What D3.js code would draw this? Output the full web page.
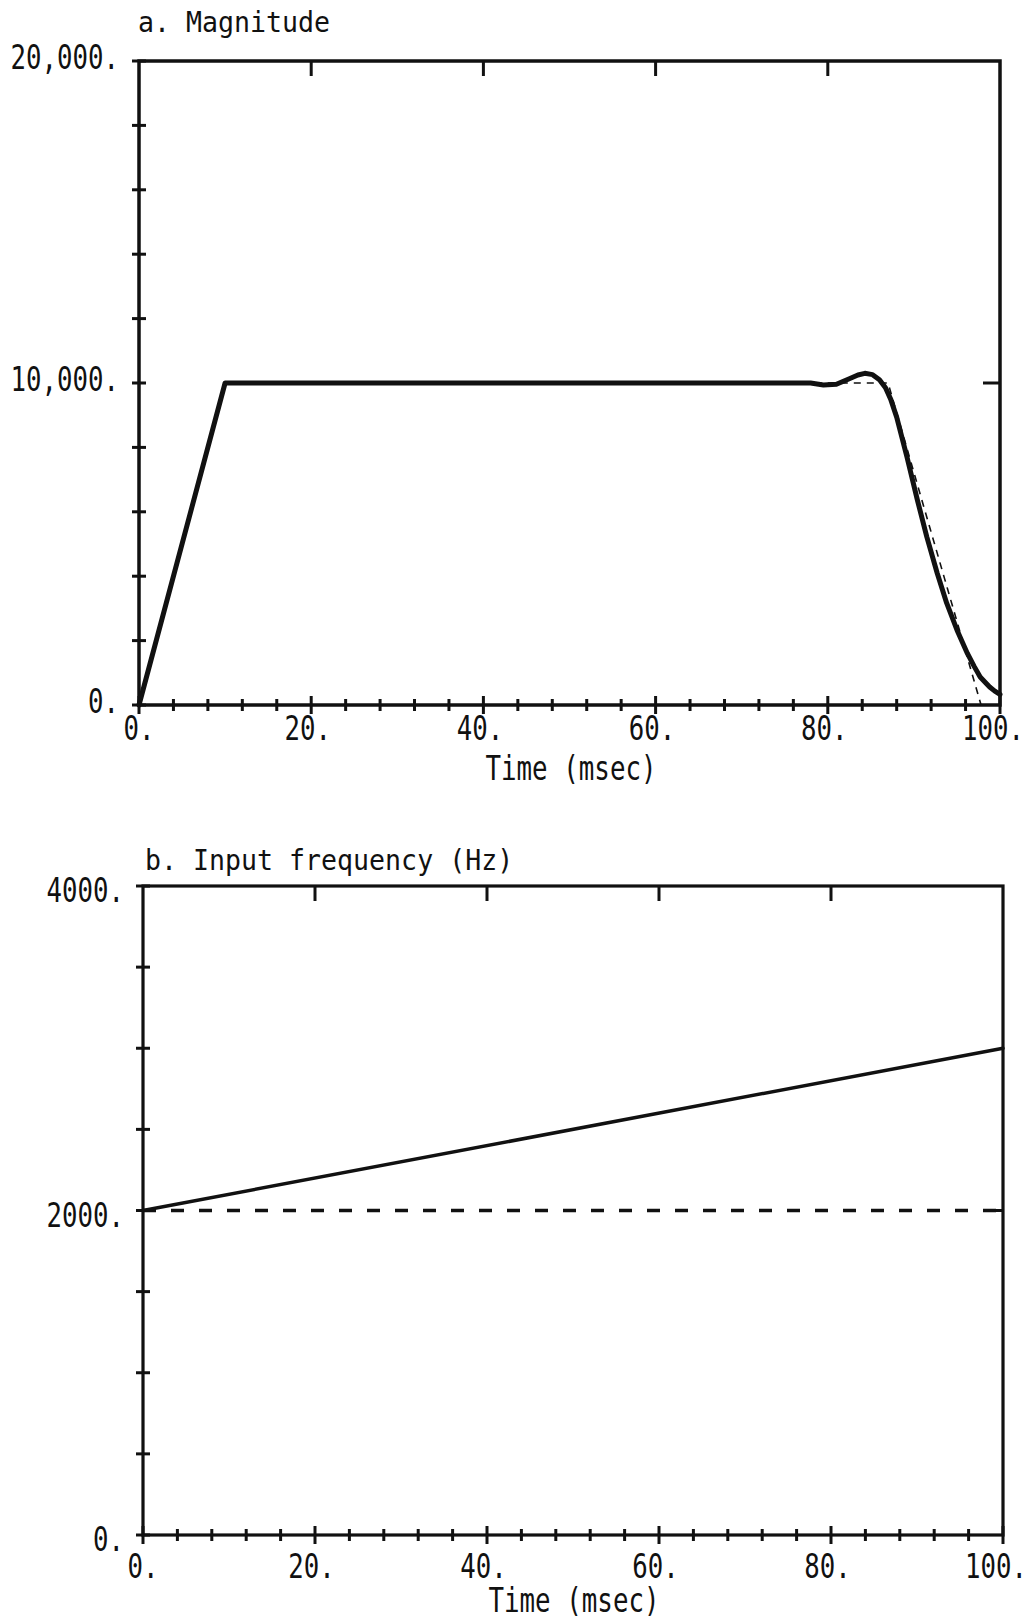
<!DOCTYPE html>
<html>
<head>
<meta charset="utf-8">
<script src="https://cdn.jsdelivr.net/npm/d3@7"></script>
<style>
  html, body { margin: 0; padding: 0; background: #fff; }
  svg { display: block; }
  text { font-family: "DejaVu Sans Mono", "Liberation Mono", monospace; fill: #111; }
</style>
</head>
<body>
<svg id="chart" width="1031" height="1620"></svg>
<script>
// ---------- Data ----------
// Panel a: magnitude vs time
const magTime  = [0, 10, 78, 79.5, 81, 82.5, 83.5, 84.3, 85.2, 86, 86.7, 87.3, 88, 89.2, 90.4, 91.5, 92.7, 93.8, 95, 96.2, 97, 97.7, 98.3, 98.8, 99.4, 100];
const magValue = [0, 10000, 10000, 9940, 9960, 10130, 10250, 10300, 10260, 10100, 9850, 9500, 8940, 7700, 6370, 5220, 4100, 3170, 2330, 1610, 1200, 870, 700, 560, 430, 330];
const magRefTime  = [0, 10, 87, 97.8];
const magRefValue = [0, 10000, 10000, 0];

// Panel b: input frequency vs time
const freqTime  = [0, 100];
const freqValue = [2000, 3000];
const freqRefTime  = [0, 100];
const freqRefValue = [2000, 2000];

// Tick values / labels
const xMajorTicks = [0, 20, 40, 60, 80, 100];
const xMajorLabels = ["0.", "20.", "40.", "60.", "80.", "100."];
const magYTicks = [0, 10000, 20000];
const magYLabels = ["0.", "10,000.", "20,000."];
const freqYTicks = [0, 2000, 4000];
const freqYLabels = ["0.", "2000.", "4000."];
const titleA = "a. Magnitude";
const titleB = "b. Input frequency (Hz)";
const xTitle = "Time (msec)";

// ---------- Drawing ----------
const svg = d3.select("#chart");
const INK = "#111";

function label(g, str, x, y, anchor, size, sx) {
  g.append("text")
    .attr("transform", `translate(${x},${y}) scale(${sx},1)`)
    .attr("text-anchor", anchor)
    .style("font-size", size + "px")
    .text(str);
}

function panel(cfg) {
  const g = svg.append("g");
  const x = d3.scaleLinear().domain([0, 100]).range([cfg.x0, cfg.x1]);
  const y = d3.scaleLinear().domain([0, cfg.yMax]).range([cfg.y0, cfg.y1]);

  // frame
  g.append("rect")
    .attr("x", x(0)).attr("y", y(cfg.yMax))
    .attr("width", x(100) - x(0)).attr("height", y(0) - y(cfg.yMax))
    .attr("fill", "none").attr("stroke", INK).attr("stroke-width", cfg.axisW);

  // bottom axis: minor ticks every 4 ms crossing, majors longer
  const minor = d3.range(0, 101, 4).filter(v => v % 20 !== 0);
  g.selectAll(".xminor").data(minor).join("line")
    .attr("x1", d => x(d)).attr("x2", d => x(d))
    .attr("y1", y(0) - 6).attr("y2", y(0) + 6)
    .attr("stroke", INK).attr("stroke-width", 3);
  g.selectAll(".xmajor").data(xMajorTicks).join("line")
    .attr("x1", d => x(d)).attr("x2", d => x(d))
    .attr("y1", y(0) - 9).attr("y2", y(0) + 9)
    .attr("stroke", INK).attr("stroke-width", 3);

  // top axis: inward majors
  g.selectAll(".xtop").data(xMajorTicks.slice(1, -1)).join("line")
    .attr("x1", d => x(d)).attr("x2", d => x(d))
    .attr("y1", y(cfg.yMax)).attr("y2", y(cfg.yMax) + 15)
    .attr("stroke", INK).attr("stroke-width", 3);

  // left axis: minor crossing ticks
  g.selectAll(".yminor").data(d3.range(0, cfg.yMax + 1, cfg.yMinor)).join("line")
    .attr("x1", x(0) - 7).attr("x2", x(0) + 7)
    .attr("y1", d => y(d)).attr("y2", d => y(d))
    .attr("stroke", INK).attr("stroke-width", 3);

  // right axis: inward tick at mid value
  g.append("line")
    .attr("x1", x(100) - 17).attr("x2", x(100))
    .attr("y1", y(cfg.yMax / 2)).attr("y2", y(cfg.yMax / 2))
    .attr("stroke", INK).attr("stroke-width", 3);

  // labels
  cfg.yTicks.forEach((v, i) => label(g, cfg.yLabels[i], cfg.yLabelX, y(v) + cfg.yLabelDy, "end", 33, 0.78));
  xMajorTicks.forEach((v, i) => {
    const s = xMajorLabels[i];
    label(g, s, x(v) - (s.length - 2) * 3.5, cfg.xLabelY, "middle", 33, 0.78);
  });
  label(g, xTitle, cfg.xTitleX, cfg.xTitleY, "middle", 34, 0.76);
  label(g, cfg.title, cfg.titleX, cfg.titleY, "start", 28, 0.95);

  // series
  const line = d3.line().x(d => x(d[0])).y(d => y(d[1])).curve(d3.curveLinear);
  g.append("path")
    .datum(d3.zip(cfg.refT, cfg.refV))
    .attr("d", line)
    .attr("fill", "none").attr("stroke", INK)
    .attr("stroke-width", cfg.refW).attr("stroke-dasharray", cfg.dash);
  g.append("path")
    .datum(d3.zip(cfg.t, cfg.v))
    .attr("d", line)
    .attr("fill", "none").attr("stroke", INK)
    .attr("stroke-width", cfg.lineW)
    .attr("stroke-linejoin", "round").attr("stroke-linecap", "round");
}

panel({
  x0: 139, x1: 1000, y0: 705, y1: 61, yMax: 20000, yMinor: 2000,
  axisW: 3.5, lineW: 5, refW: 1.6, dash: "7,6",
  yTicks: magYTicks, yLabels: magYLabels, yLabelX: 119, yLabelDy: 8,
  xLabelY: 740, xTitleX: 571, xTitleY: 780,
  title: titleA, titleX: 138, titleY: 32,
  t: magTime, v: magValue, refT: magRefTime, refV: magRefValue
});

panel({
  x0: 143, x1: 1003, y0: 1535, y1: 886, yMax: 4000, yMinor: 500,
  axisW: 3.2, lineW: 3.5, refW: 3.5, dash: "13,15",
  yTicks: freqYTicks, yLabels: freqYLabels, yLabelX: 124, yLabelDy: 16,
  xLabelY: 1578, xTitleX: 574, xTitleY: 1612,
  title: titleB, titleX: 145, titleY: 870,
  t: freqTime, v: freqValue, refT: freqRefTime, refV: freqRefValue
});
</script>
</body>
</html>
